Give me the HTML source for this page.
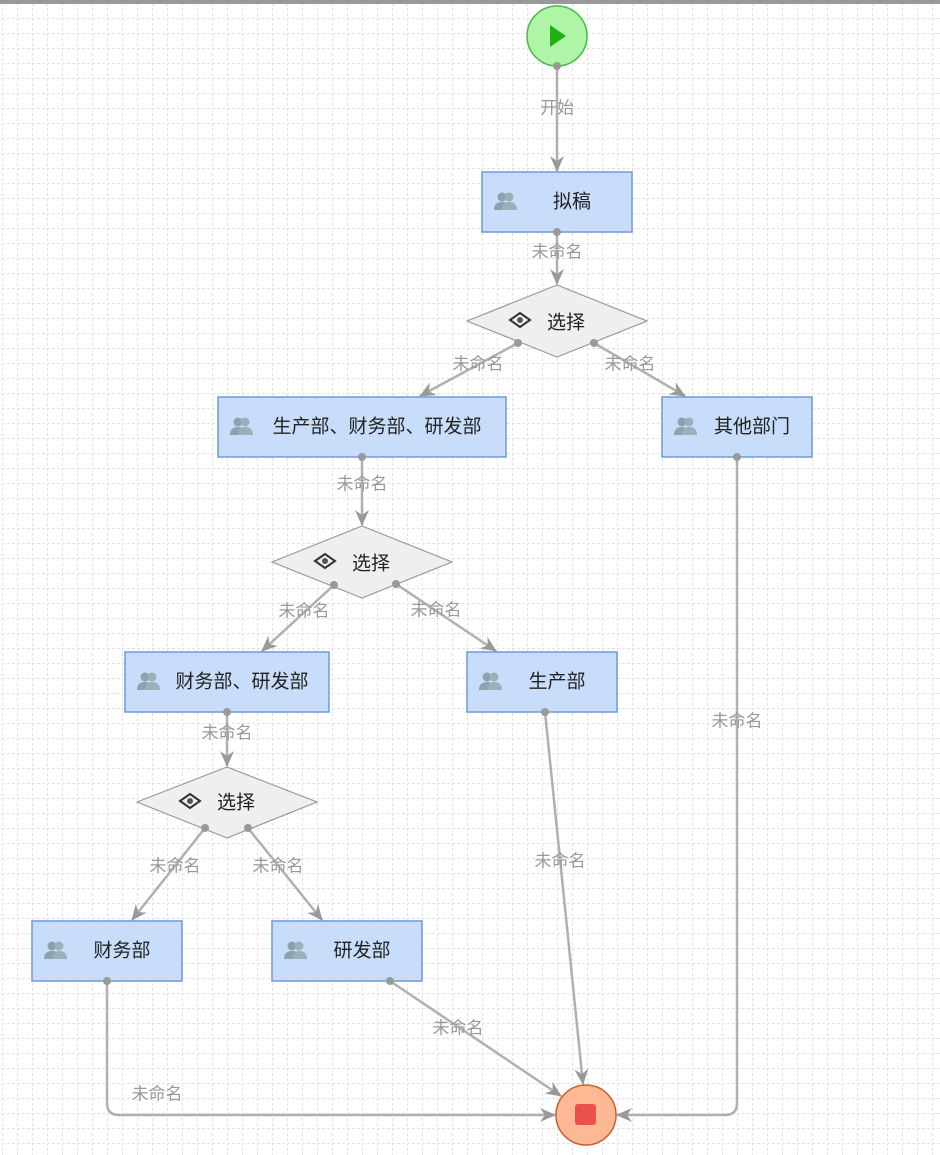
<!DOCTYPE html>
<html><head><meta charset="utf-8"><style>
html,body{margin:0;padding:0;background:#fff}
svg{display:block}
text{font-family:"Liberation Sans","Noto Sans CJK SC",sans-serif}
.lb{fill:#999;font-size:17px;text-anchor:middle;dominant-baseline:central}
.nt{fill:#222;font-size:19px;text-anchor:middle;dominant-baseline:central}
.e{stroke:#b0b0b0;stroke-width:2.5;fill:none}
.n{fill:#c7ddfa;stroke:#6f9ad9;stroke-width:1.5}
.d{fill:#efefef;stroke:#999;stroke-width:1.2}
</style></head><body>
<svg width="940" height="1155" viewBox="0 0 940 1155" xmlns="http://www.w3.org/2000/svg">
<defs>
<pattern id="g" width="15" height="15" patternUnits="userSpaceOnUse" x="2" y="3">
<path d="M0.5 0V15M0 0.5H15" stroke="#e2e2e2" stroke-width="1" stroke-dasharray="3 2"/>
</pattern>
<marker id="a" viewBox="0 0 16 14" refX="15" refY="7" markerWidth="16" markerHeight="14" orient="auto" markerUnits="userSpaceOnUse">
<path d="M0 0 L16 7 L0 14 L5 7 Z" fill="#999"/>
</marker>
<g id="ic"><circle cx="-4" cy="-5" r="4.5" fill="#8aa3ad"/><path d="M-12 8 Q-12 0 -4 0 Q4 0 4 8Z" fill="#8aa3ad"/><circle cx="3" cy="-5" r="4.5" fill="#9bb0b8"/><path d="M-4 8 Q-4 0 3 0 Q11 0 11 8Z" fill="#9bb0b8"/></g>
<g id="gi"><path d="M-10 0 L0 -7 L10 0 L0 7Z" fill="none" stroke="#333" stroke-width="2"/><circle cx="0" cy="0" r="3" fill="#555"/></g>
</defs>
<rect width="940" height="1155" fill="url(#g)"/>
<rect width="940" height="4" fill="#999"/>
<!-- edges -->
<g class="e">
<path d="M557 66V171" marker-end="url(#a)"/>
<path d="M557 232V284" marker-end="url(#a)"/>
<path d="M518 343L420 396" marker-end="url(#a)"/>
<path d="M594 343L685 396" marker-end="url(#a)"/>
<path d="M362 457V525" marker-end="url(#a)"/>
<path d="M334 585L262 651" marker-end="url(#a)"/>
<path d="M396 584L496 651" marker-end="url(#a)"/>
<path d="M227 712V766" marker-end="url(#a)"/>
<path d="M205 828L132 920" marker-end="url(#a)"/>
<path d="M248 828L322 920" marker-end="url(#a)"/>
<path d="M107 981V1103Q107 1115 119 1115H555" marker-end="url(#a)"/>
<path d="M390 981L561 1096" marker-end="url(#a)"/>
<path d="M545 712L583 1084" marker-end="url(#a)"/>
<path d="M737 457V1103Q737 1115 725 1115H617" marker-end="url(#a)"/>
</g>
<!-- start/end -->
<circle cx="557" cy="36" r="30" fill="#aef5a6" stroke="#4cb84a" stroke-width="1.5"/>
<path d="M550 25L566 36L550 47Z" fill="#1fae14"/>
<circle cx="586" cy="1115" r="30" fill="#fdb994" stroke="#c6622e" stroke-width="1.5"/>
<rect x="575" y="1104" width="21" height="21" rx="3" fill="#e9514c"/>
<!-- tasks -->
<rect class="n" x="482" y="172" width="150" height="60"/><use href="#ic" x="506" y="202"/><text class="nt" x="572" y="202">拟稿</text>
<rect class="n" x="218" y="397" width="288" height="60"/><use href="#ic" x="242" y="427"/><text class="nt" x="377" y="427">生产部、财务部、研发部</text>
<rect class="n" x="662" y="397" width="150" height="60"/><use href="#ic" x="686" y="427"/><text class="nt" x="752" y="427">其他部门</text>
<rect class="n" x="125" y="652" width="204" height="60"/><use href="#ic" x="149" y="682"/><text class="nt" x="242" y="682">财务部、研发部</text>
<rect class="n" x="467" y="652" width="150" height="60"/><use href="#ic" x="491" y="682"/><text class="nt" x="557" y="682">生产部</text>
<rect class="n" x="32" y="921" width="150" height="60"/><use href="#ic" x="56" y="951"/><text class="nt" x="122" y="951">财务部</text>
<rect class="n" x="272" y="921" width="150" height="60"/><use href="#ic" x="296" y="951"/><text class="nt" x="362" y="951">研发部</text>
<!-- gateways -->
<path class="d" d="M467 321L557 285L647 321L557 357Z"/><use href="#gi" x="520" y="320"/><text class="nt" x="566" y="323">选择</text>
<path class="d" d="M272 562L362 526L452 562L362 598Z"/><use href="#gi" x="325" y="561"/><text class="nt" x="371" y="564">选择</text>
<path class="d" d="M137 802L227 767L317 802L227 838Z"/><use href="#gi" x="190" y="801"/><text class="nt" x="236" y="803">选择</text>
<g fill="#999">
<circle cx="557" cy="66" r="4"/><circle cx="557" cy="232" r="4"/><circle cx="518" cy="343" r="4"/><circle cx="594" cy="343" r="4"/>
<circle cx="362" cy="457" r="4"/><circle cx="334" cy="585" r="4"/><circle cx="396" cy="584" r="4"/><circle cx="227" cy="712" r="4"/>
<circle cx="205" cy="828" r="4"/><circle cx="248" cy="828" r="4"/><circle cx="107" cy="981" r="4"/><circle cx="390" cy="981" r="4"/>
<circle cx="545" cy="712" r="4"/><circle cx="737" cy="457" r="4"/>
</g>
<!-- labels -->
<text class="lb" x="557" y="108">开始</text>
<text class="lb" x="557" y="252">未命名</text>
<text class="lb" x="478" y="364">未命名</text>
<text class="lb" x="630" y="364">未命名</text>
<text class="lb" x="362" y="484">未命名</text>
<text class="lb" x="304" y="611">未命名</text>
<text class="lb" x="436" y="610">未命名</text>
<text class="lb" x="227" y="733">未命名</text>
<text class="lb" x="175" y="866">未命名</text>
<text class="lb" x="278" y="866">未命名</text>
<text class="lb" x="157" y="1094">未命名</text>
<text class="lb" x="458" y="1028">未命名</text>
<text class="lb" x="560" y="861">未命名</text>
<text class="lb" x="737" y="721">未命名</text>
</svg>
</body></html>
